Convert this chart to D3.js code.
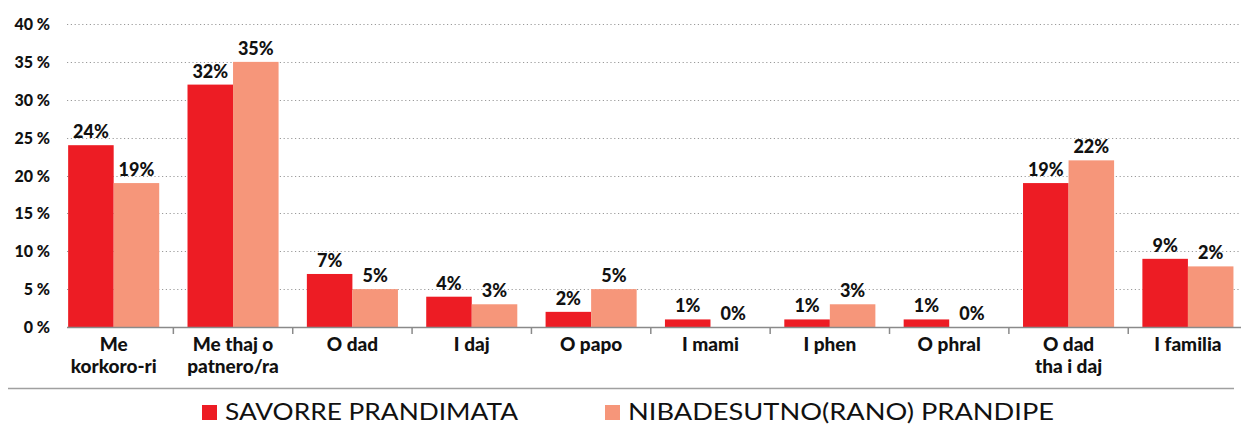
<!DOCTYPE html>
<html><head><meta charset="utf-8">
<script src="https://cdn.jsdelivr.net/npm/d3@7"></script>
<style>body{margin:0;background:#fff}svg{display:block}text{font-family:Lato,"Open Sans",sans-serif}</style>
</head><body><div id="chart"></div>
<script>
const categories = [["Me","korkoro-ri"],["Me thaj o","patnero/ra"],["O dad"],["I daj"],["O papo"],["I mami"],["I phen"],["O phral"],["O dad","tha i daj"],["I familia"]];
const seriesNames = ["SAVORRE PRANDIMATA","NIBADESUTNO(RANO) PRANDIPE"];
const series1 = [24,32,7,4,2,1,1,1,19,9];
const series2 = [19,35,5,3,5,0,3,0,22,8];
const labels1 = ["24%","32%","7%","4%","2%","1%","1%","1%","19%","9%"];
const labels2 = ["19%","35%","5%","3%","5%","0%","3%","0%","22%","2%"];
const yTicks = [0,5,10,15,20,25,30,35,40];
const colors = ["#ED1C24","#F6967A"];

const W=1241,H=425;
const svg=d3.select("#chart").append("svg").attr("width",W).attr("height",H);
const y=d3.scaleLinear().domain([0,40]).range([327,24]);
const x=d3.scaleBand().domain(d3.range(categories.length)).range([54,1247.6]).paddingInner(0.237).paddingOuter(0.1185);
const xs=d3.scaleBand().domain([0,1]).range([0,x.bandwidth()]);

// gridlines
svg.append("g").selectAll("line").data(yTicks.filter(d=>d>0)).join("line")
 .attr("x1",67).attr("x2",W).attr("y1",d=>Math.round(y(d))+0.5).attr("y2",d=>Math.round(y(d))+0.5)
 .attr("stroke","#9a9a9a").attr("stroke-width",1).attr("stroke-dasharray","1.2,2.6");

// y labels
svg.append("g").selectAll("text").data(yTicks).join("text")
 .attr("x",50).attr("y",d=>y(d)+6).attr("text-anchor","end")
 .attr("font-size",16).attr("font-weight",900).attr("fill","#111")
 .text(d=>d+" %");

const data=categories.map((c,i)=>({i,vals:[series1[i],series2[i]],labs:[labels1[i],labels2[i]]}));
const g=svg.append("g").selectAll("g").data(data).join("g").attr("transform",d=>`translate(${x(d.i)},0)`);
g.selectAll("rect").data(d=>d.vals.map((v,k)=>({v,k}))).join("rect")
 .attr("x",d=>xs(d.k)).attr("width",xs.bandwidth()).attr("y",d=>y(d.v)).attr("height",d=>y(0)-y(d.v))
 .attr("fill",d=>colors[d.k]);
g.selectAll("text.val").data(d=>d.vals.map((v,k)=>({v,k,l:d.labs[k]}))).join("text").attr("class","val")
 .attr("x",d=>xs(d.k)+xs.bandwidth()/2).attr("y",d=>y(d.v)-7).attr("text-anchor","middle")
 .attr("font-size",18).attr("font-weight",900).attr("fill","#111")
 .text(d=>d.l);

// axis line and ticks
svg.append("line").attr("x1",67).attr("x2",W).attr("y1",327.5).attr("y2",327.5).attr("stroke","#8a8a8a").attr("stroke-width",1.5);
const step=x.step();
svg.append("g").selectAll("line").data(d3.range(1,categories.length)).join("line")
 .attr("x1",d=>x(d)-(step-x.bandwidth())/2).attr("x2",d=>x(d)-(step-x.bandwidth())/2)
 .attr("y1",327).attr("y2",334).attr("stroke","#8a8a8a").attr("stroke-width",1.5);

// x labels
svg.append("g").selectAll("text").data(data).join("text")
 .attr("x",d=>x(d.i)+x.bandwidth()/2).attr("y",351).attr("text-anchor","middle")
 .attr("font-size",19).attr("font-weight",900).attr("fill","#111")
 .each(function(d){const t=d3.select(this);categories[d.i].forEach((s,j)=>t.append("tspan").attr("x",x(d.i)+x.bandwidth()/2).attr("dy",j?22:0).text(s));});

// separator
svg.append("line").attr("x1",8).attr("x2",1234).attr("y1",388.5).attr("y2",388.5).attr("stroke","#a0a0a0").attr("stroke-width",1.5);

// legend
const leg=[{x:202,w:293},{x:605,w:426}];
seriesNames.forEach((n,k)=>{
 svg.append("rect").attr("x",leg[k].x).attr("y",405).attr("width",15).attr("height",15).attr("fill",colors[k]);
 svg.append("text").attr("x",leg[k].x+23).attr("y",420).attr("font-size",23).attr("fill","#111")
  .attr("textLength",leg[k].w).attr("lengthAdjust","spacingAndGlyphs").text(n);
});
</script></body></html>
